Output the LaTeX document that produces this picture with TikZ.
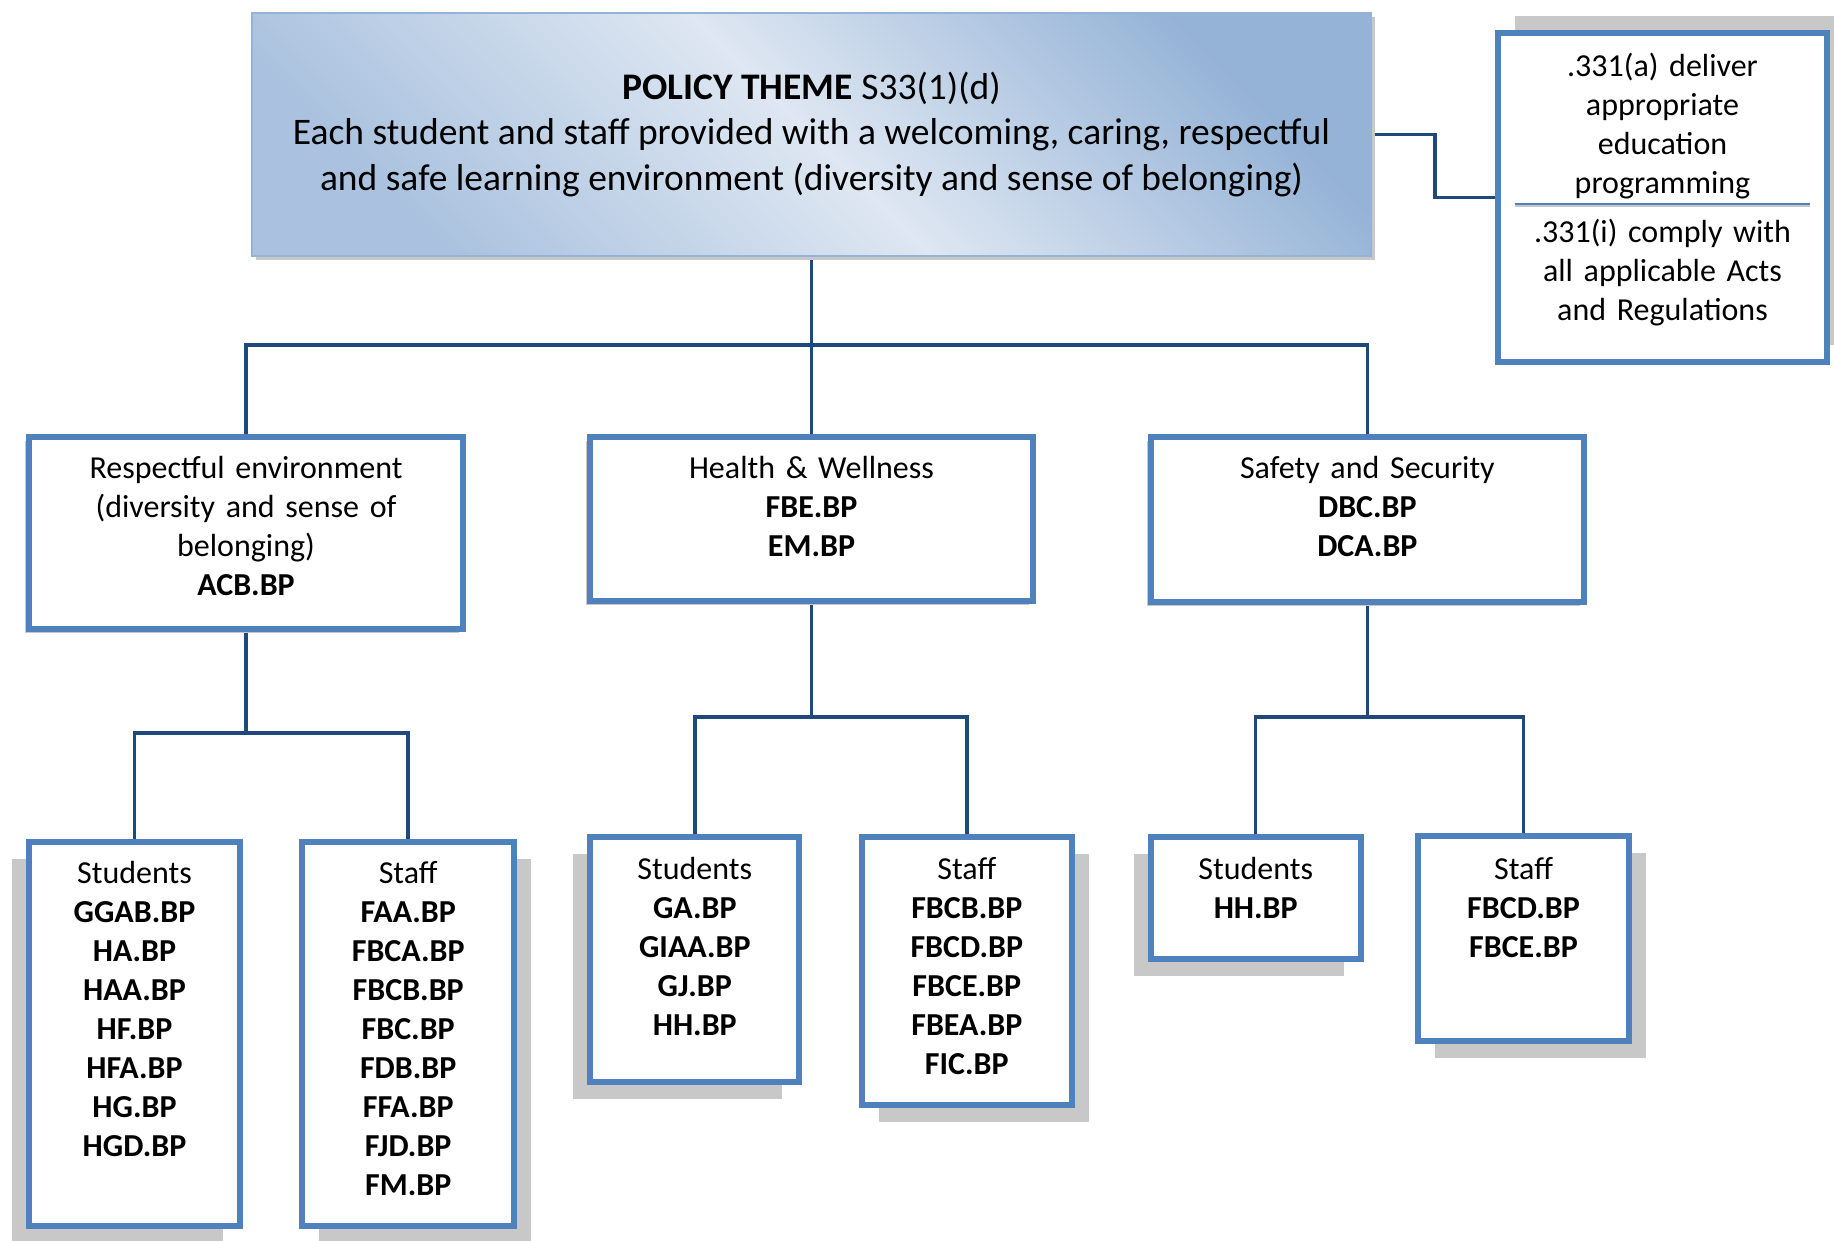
\documentclass[tikz,border=0pt]{standalone}
\usepackage{fontspec}
\setmainfont{Carlito}
\usetikzlibrary{shadows}
\pgfdeclarelayer{background}
\pgfsetlayers{background,main}
\definecolor{boxblue}{RGB}{79,129,189}
\definecolor{linkblue}{RGB}{31,73,125}
\definecolor{themedark}{RGB}{149,179,215}
\definecolor{themelight}{RGB}{222,231,242}
\definecolor{shadowgray}{RGB}{200,200,200}
\tikzset{
  topbox/.style={draw=themedark, line width=2pt, inner sep=0pt, align=center,
    minimum width=1119pt, minimum height=243pt,
    top color=themedark, bottom color=themedark!80!white, middle color=themelight,
    shading angle=-45, font=\fontsize{37.5}{45.6}\selectfont,
    drop shadow={shadow xshift=4pt, shadow yshift=-4pt, fill=shadowgray, opacity=1}},
  bbox/.style={draw=boxblue, line width=6pt, fill=white, inner sep=0pt, align=center,
    anchor=north, text height=42pt, font=\fontsize{32}{39}\selectfont},
  regtext/.style={inner sep=0pt, align=center, anchor=base, text width=329pt,
    font=\fontsize{32}{39}\selectfont},
  shadowsmall/.style={drop shadow={shadow xshift=-4pt, shadow yshift=-4pt, fill=shadowgray, opacity=1}},
  shadowleft/.style={drop shadow={shadow xshift=-17pt, shadow yshift=-17pt, fill=shadowgray, opacity=1}},
  shadowright/.style={drop shadow={shadow xshift=17pt, shadow yshift=-17pt, fill=shadowgray, opacity=1}},
  conn/.style={draw=linkblue, line width=3.5pt},
}
\begin{document}
\begin{tikzpicture}[x=1pt, y=-1pt]
\useasboundingbox (0,0) rectangle (1834,1240);
% theme and regulations
\node[topbox] (ptheme) at (811.5,134.5) {\textbf{POLICY THEME} S33(1)(d)\\Each student and staff provided with a welcoming, caring, respectful\\and safe learning environment (diversity and sense of belonging)};
\node[bbox, text width=329pt, text height=43pt, text depth=286pt,
  drop shadow={shadow xshift=17pt, shadow yshift=17pt, fill=shadowgray, opacity=1}] (regs) at (1662.5,30) {.331(a) deliver\\appropriate\\education\\programming};
\node[regtext] (regstwo) at (1662.5,242) {.331(i) comply with\\all applicable Acts\\and Regulations};
\coordinate (divl) at (1515,204);
\coordinate (divr) at (1810,204);
\draw[boxblue, line width=2pt] (divl) -- (divr);
\draw[shadowgray, line width=1.5pt] ([yshift=-2pt]divl) -- ([yshift=-2pt]divr);
% second level
\node[bbox, shadowsmall, text width=433.8pt, text height=41pt, text depth=151.3pt] (resp) at (246,434) {Respectful environment\\(diversity and sense of\\belonging)\\\textbf{ACB.BP}};
\node[bbox, shadowsmall, text width=443.2pt, text height=41pt, text depth=123.2pt] (health) at (811.5,434) {Health \& Wellness\\\textbf{FBE.BP}\\\textbf{EM.BP}};
\node[bbox, shadowsmall, text width=433.8pt, text height=41pt, text depth=124.4pt] (safety) at (1367.4,434) {Safety and Security\\\textbf{DBC.BP}\\\textbf{DCA.BP}};
% third level
\node[bbox, shadowleft, text width=211.6pt, text depth=342.2pt] (respstu) at (134.5,838.6) {Students\\\textbf{GGAB.BP}\\\textbf{HA.BP}\\\textbf{HAA.BP}\\\textbf{HF.BP}\\\textbf{HFA.BP}\\\textbf{HG.BP}\\\textbf{HGD.BP}};
\node[bbox, shadowright, text width=211.6pt, text depth=342.2pt] (respstaff) at (408.2,838.6) {Staff\\\textbf{FAA.BP}\\\textbf{FBCA.BP}\\\textbf{FBCB.BP}\\\textbf{FBC.BP}\\\textbf{FDB.BP}\\\textbf{FFA.BP}\\\textbf{FJD.BP}\\\textbf{FM.BP}};
\node[bbox, shadowleft, text width=209.2pt, text depth=203pt] (healthstu) at (694.8,834) {Students\\\textbf{GA.BP}\\\textbf{GIAA.BP}\\\textbf{GJ.BP}\\\textbf{HH.BP}};
\node[bbox, shadowright, text width=210.4pt, text depth=226.4pt] (healthstaff) at (966.8,834) {Staff\\\textbf{FBCB.BP}\\\textbf{FBCD.BP}\\\textbf{FBCE.BP}\\\textbf{FBEA.BP}\\\textbf{FIC.BP}};
\node[bbox, shadowleft, text width=210.4pt, text depth=80pt] (safetystu) at (1255.7,834) {Students\\\textbf{HH.BP}};
\node[bbox, shadowright, text width=210.4pt, text height=43pt, text depth=162pt] (safetystaff) at (1523.5,833) {Staff\\\textbf{FBCD.BP}\\\textbf{FBCE.BP}};
% connectors
\coordinate (themebus) at (811.5,345);
\coordinate (regelbow) at (1435,134.5);
\coordinate (respbus) at (246,733);
\coordinate (healthbus) at (811.5,717);
\coordinate (safetybus) at (1367.4,717);
\begin{pgfonlayer}{background}
\draw[conn] (ptheme.south) -- (health.north);
\draw[conn] (resp.north) |- (themebus) -| (safety.north);
\draw[conn] (ptheme.east) -- (regelbow) |- (regs.west);
\draw[conn] (resp.south) -- (respbus);
\draw[conn] (respstu.north) |- (respbus) -| (respstaff.north);
\draw[conn] (health.south) -- (healthbus);
\draw[conn] (healthstu.north) |- (healthbus) -| (healthstaff.north);
\draw[conn] (safety.south) -- (safetybus);
\draw[conn] (safetystu.north) |- (safetybus) -| (safetystaff.north);
\end{pgfonlayer}
\end{tikzpicture}
\end{document}
